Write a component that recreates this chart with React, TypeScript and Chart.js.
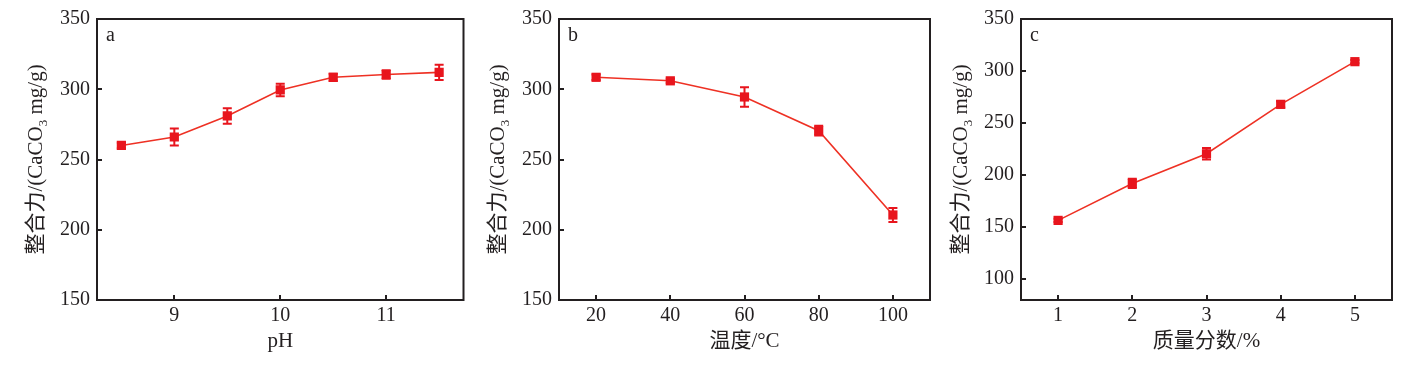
import React, { useEffect, useRef } from "react";
import { Chart, registerables } from "chart.js";

Chart.register(...registerables);

// ---- Data ----
const phX = [8.5, 9, 9.5, 10, 10.5, 11, 11.5];
const phY = [260, 266, 281, 299.5, 308.5, 310.5, 312];
const phErr = [2, 6, 5.5, 4.5, 2.5, 3, 5.5];

const tempX = [20, 40, 60, 80, 100];
const tempY = [308.5, 306, 294.5, 270.5, 210.5];
const tempErr = [2, 1.5, 7, 3.5, 5];

const massX = [1, 2, 3, 4, 5];
const massY = [156.5, 192, 220.5, 268, 309];
const massErr = [1.5, 4.5, 5.5, 3, 1.5];

const phTicks = [9, 10, 11];
const tempTicks = [20, 40, 60, 80, 100];
const massTicks = [1, 2, 3, 4, 5];
const yTicksAB = [150, 200, 250, 300, 350];
const yTicksC = [100, 150, 200, 250, 300, 350];

const yTitleMain = "整合力/(CaCO";
const yTitleSub = "3";
const yTitleEnd = " mg/g)";
const xTitles = ["pH", "温度/°C", "质量分数/%"];
const panelLetters = ["a", "b", "c"];

// ---- Styles ----
const FONT = "'Liberation Serif', 'Times New Roman', 'Noto Sans CJK SC', serif";
const INK = "#231f20";
const RED = "#e8151d";
const LINE_RED = "#ee3124";

const framePlugin = {
  id: "frame",
  afterDraw(chart: any, _args: any, opts: any) {
    const { ctx, chartArea, scales } = chart;
    const { left, right, top, bottom } = chartArea;
    ctx.save();
    ctx.strokeStyle = INK;
    ctx.lineWidth = 2;
    ctx.strokeRect(left, top, right - left, bottom - top);
    // inside ticks
    ctx.beginPath();
    for (const t of scales.x.ticks) {
      const px = Math.round(scales.x.getPixelForValue(t.value));
      ctx.moveTo(px, bottom);
      ctx.lineTo(px, bottom - 5);
    }
    for (const t of scales.y.ticks) {
      const py = Math.round(scales.y.getPixelForValue(t.value));
      ctx.moveTo(left, py);
      ctx.lineTo(left + 5, py);
    }
    ctx.stroke();
    // panel letter
    ctx.fillStyle = INK;
    ctx.font = `20px ${FONT}`;
    ctx.textBaseline = "alphabetic";
    ctx.textAlign = "left";
    ctx.fillText(opts.letter, left + 9, top + 22);
    // y title with subscript
    const cy = (top + bottom) / 2;
    ctx.translate(opts.titleX, cy);
    ctx.rotate(-Math.PI / 2);
    const mainFont = `21px ${FONT}`;
    const subFont = `13px ${FONT}`;
    ctx.font = mainFont;
    const w1 = ctx.measureText(yTitleMain).width;
    const w3 = ctx.measureText(yTitleEnd).width;
    ctx.font = subFont;
    const w2 = ctx.measureText(yTitleSub).width;
    const total = w1 + w2 + w3;
    let x = -total / 2;
    ctx.textBaseline = "alphabetic";
    const base = 7;
    ctx.font = mainFont;
    ctx.fillText(yTitleMain, x, base);
    x += w1;
    ctx.font = subFont;
    ctx.fillText(yTitleSub, x, base + 5);
    x += w2;
    ctx.font = mainFont;
    ctx.fillText(yTitleEnd, x, base);
    ctx.restore();
  },
};

const errorBarPlugin = {
  id: "errbars",
  afterDatasetsDraw(chart: any, _args: any, opts: any) {
    const { ctx, scales } = chart;
    const ds = chart.data.datasets[0];
    const errs: number[] = opts.errors || [];
    ctx.save();
    ctx.strokeStyle = RED;
    ctx.lineWidth = 2;
    ds.data.forEach((p: any, i: number) => {
      const e = errs[i] || 0;
      if (!e) return;
      const px = scales.x.getPixelForValue(p.x);
      const y1 = scales.y.getPixelForValue(p.y + e);
      const y2 = scales.y.getPixelForValue(p.y - e);
      ctx.beginPath();
      ctx.moveTo(px, y1);
      ctx.lineTo(px, y2);
      ctx.moveTo(px - 4.5, y1);
      ctx.lineTo(px + 4.5, y1);
      ctx.moveTo(px - 4.5, y2);
      ctx.lineTo(px + 4.5, y2);
      ctx.stroke();
    });
    ctx.restore();
  },
};

type PanelProps = {
  xs: number[];
  ys: number[];
  errs: number[];
  xMin: number;
  xMax: number;
  xTicks: number[];
  yMin: number;
  yMax: number;
  yTicks: number[];
  xTitle: string;
  letter: string;
  left: number;
  width: number;
  axisWidth: number;
  padRight: number;
  titleX: number;
};

function Panel(p: PanelProps) {
  const ref = useRef<HTMLCanvasElement | null>(null);
  useEffect(() => {
    if (!ref.current) return;
    const chart = new Chart(ref.current, {
      type: "line",
      data: {
        datasets: [
          {
            data: p.xs.map((x, i) => ({ x, y: p.ys[i] })),
            borderColor: LINE_RED,
            borderWidth: 1.6,
            backgroundColor: RED,
            pointBackgroundColor: RED,
            pointBorderColor: RED,
            pointBorderWidth: 0,
            pointStyle: "rect",
            pointRadius: 6.5,
            tension: 0,
          },
        ],
      },
      options: {
        animation: false,
        responsive: false,
        devicePixelRatio: 1,
        layout: { padding: { top: 19, right: p.padRight, left: 0, bottom: 0 } },
        plugins: {
          legend: { display: false },
          tooltip: { enabled: false },
          frame: { letter: p.letter, titleX: p.titleX },
          errbars: { errors: p.errs },
        } as any,
        scales: {
          x: {
            type: "linear",
            min: p.xMin,
            max: p.xMax,
            grid: { display: false, drawTicks: false },
            border: { display: false },
            afterBuildTicks: (axis: any) => {
              axis.ticks = p.xTicks.map((v) => ({ value: v }));
            },
            afterFit: (axis: any) => {
              axis.height = 65;
            },
            ticks: {
              padding: 4,
              color: INK,
              font: { family: FONT, size: 20 },
              maxRotation: 0,
              autoSkip: false,
            },
            title: {
              display: true,
              text: p.xTitle,
              color: INK,
              font: { family: FONT, size: 21 },
              padding: { top: 0, bottom: 11 },
            },
          },
          y: {
            type: "linear",
            min: p.yMin,
            max: p.yMax,
            grid: { display: false, drawTicks: false },
            border: { display: false },
            afterBuildTicks: (axis: any) => {
              axis.ticks = p.yTicks.map((v) => ({ value: v }));
            },
            afterFit: (axis: any) => {
              axis.width = p.axisWidth;
            },
            ticks: {
              padding: 7,
              color: INK,
              font: { family: FONT, size: 20 },
            },
          },
        },
      },
      plugins: [framePlugin, errorBarPlugin],
    });
    return () => chart.destroy();
  }, []);
  return (
    <canvas
      ref={ref}
      width={p.width}
      height={365}
      style={{ position: "absolute", left: p.left, top: 0, width: p.width, height: 365 }}
    />
  );
}

export default function App() {
  return (
    <div
      style={{
        position: "absolute",
        left: 0,
        top: 0,
        width: 1404,
        height: 365,
        background: "#ffffff",
        overflow: "hidden",
      }}
    >
      <Panel
        xs={phX}
        ys={phY}
        errs={phErr}
        xMin={8.27}
        xMax={11.73}
        xTicks={phTicks}
        yMin={150}
        yMax={350}
        yTicks={yTicksAB}
        xTitle={xTitles[0]}
        letter={panelLetters[0]}
        left={0}
        width={470}
        axisWidth={97}
        padRight={4}
        titleX={35}
      />
      <Panel
        xs={tempX}
        ys={tempY}
        errs={tempErr}
        xMin={10}
        xMax={110}
        xTicks={tempTicks}
        yMin={150}
        yMax={350}
        yTicks={yTicksAB}
        xTitle={xTitles[1]}
        letter={panelLetters[1]}
        left={470}
        width={470}
        axisWidth={89}
        padRight={10}
        titleX={27}
      />
      <Panel
        xs={massX}
        ys={massY}
        errs={massErr}
        xMin={0.5}
        xMax={5.5}
        xTicks={massTicks}
        yMin={80}
        yMax={350}
        yTicks={yTicksC}
        xTitle={xTitles[2]}
        letter={panelLetters[2]}
        left={935}
        width={469}
        axisWidth={86}
        padRight={12}
        titleX={25}
      />
    </div>
  );
}
